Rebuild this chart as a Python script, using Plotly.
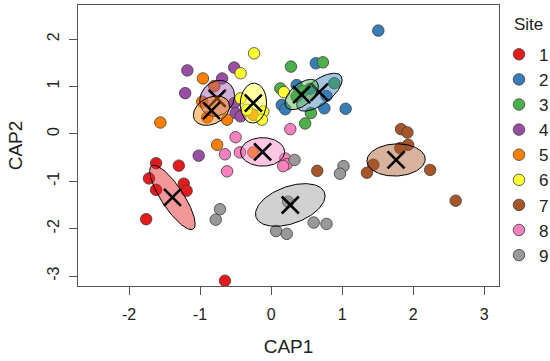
import numpy as np
import plotly.graph_objects as go

# ---- data ----
sites = ["1", "2", "3", "4", "5", "6", "7", "8", "9"]
colors = ["#E41A1C", "#377EB8", "#4DAF4A", "#984EA3", "#FF7F00",
          "#FFFF33", "#A65628", "#F781BF", "#999999"]

cap1_s1 = [-1.62, -1.30, -1.72, -1.62, -1.23, -1.19, -1.76, -0.65]
cap2_s1 = [-0.62, -0.67, -0.94, -1.18, -1.05, -1.20, -1.80, -3.10]
cap1_s2 = [1.51, 0.63, 0.75, 1.05, 0.15, 0.20, 0.36, 0.55, 0.78]
cap2_s2 = [2.18, 1.49, 0.54, 0.53, 0.61, 0.52, 1.03, 0.95, 0.80]
cap1_s3 = [0.28, 0.73, 0.89, 0.56, 0.48, 0.13, 0.36, 0.45]
cap2_s3 = [1.42, 1.51, 1.07, 0.44, 0.22, 0.96, 0.79, 0.90]
cap1_s4 = [-1.18, -0.52, -0.69, -1.21, -1.02, -0.52, -0.50, -0.43]
cap2_s4 = [1.34, 1.40, 1.17, 0.86, -0.46, 0.65, 0.44, 0.37]
cap1_s5 = [-0.96, -1.56, -0.76, -0.80, -0.97, -0.62, -0.90, -0.25, -0.25]
cap2_s5 = [1.17, 0.24, -0.23, 1.01, 0.68, 0.30, 0.35, 0.40, -0.39]
cap1_s6 = [-0.24, -0.43, -0.43, -0.11, -0.13, -0.34, 0.18]
cap2_s6 = [1.70, 1.28, 0.75, 0.47, 0.30, 0.51, 0.88]
cap1_s7 = [1.83, 1.92, 1.93, 1.82, 1.44, 1.35, 2.24, 0.65, 2.60]
cap2_s7 = [0.10, 0.03, -0.23, -0.30, -0.65, -0.82, -0.76, -0.78, -1.41]
cap1_s8 = [-0.50, 0.27, -0.65, -0.44, -0.62, 0.20, 0.22, 0.17]
cap2_s8 = [-0.07, 0.10, -0.43, -0.39, -0.79, -0.52, -0.64, -0.68]
cap1_s9 = [0.33, 1.02, 0.97, 0.24, 0.60, 0.78, 0.07, 0.22, -0.72, -0.78]
cap2_s9 = [-0.55, -0.68, -0.84, -1.43, -1.87, -1.90, -2.05, -2.11, -1.59, -1.81]

cap1 = [cap1_s1, cap1_s2, cap1_s3, cap1_s4, cap1_s5, cap1_s6, cap1_s7, cap1_s8, cap1_s9]
cap2 = [cap2_s1, cap2_s2, cap2_s3, cap2_s4, cap2_s5, cap2_s6, cap2_s7, cap2_s8, cap2_s9]

# group centroids
cent_x = [-1.39, 0.68, 0.43, -0.76, -0.84, -0.25, 1.76, -0.12, 0.27]
cent_y = [-1.34, 0.88, 0.83, 0.75, 0.49, 0.65, -0.55, -0.38, -1.50]
# ellipse spreads (half extents in CAP1 / CAP2) and correlation
ell_sx = [0.32, 0.32, 0.235, 0.245, 0.255, 0.185, 0.41, 0.31, 0.49]
ell_sy = [0.68, 0.40, 0.32, 0.38, 0.31, 0.42, 0.34, 0.30, 0.45]
ell_rho = [-0.82, 0.65, 0.55, 0.15, 0.30, 0.05, 0.05, 0.0, 0.42]

x_ticks = [-2, -1, 0, 1, 2, 3]
y_ticks = [-3, -2, -1, 0, 1, 2]


def rgba(hexc, a):
    h = hexc.lstrip("#")
    r, g, b = int(h[0:2], 16), int(h[2:4], 16), int(h[4:6], 16)
    return f"rgba({r},{g},{b},{a})"


def ellipse(cx, cy, sx, sy, rho, n=120):
    t = np.linspace(0, 2 * np.pi, n)
    x = cx + sx * np.cos(t)
    y = cy + sy * (rho * np.cos(t) + np.sqrt(1 - rho ** 2) * np.sin(t))
    return x, y


FONT = "Liberation Sans, Arial, Helvetica, sans-serif"
fig = go.Figure()

for i, s in enumerate(sites):
    fig.add_trace(go.Scatter(
        x=cap1[i], y=cap2[i], mode="markers", name=s,
        marker=dict(size=11.5, color=colors[i],
                    line=dict(color="rgba(60,60,60,1)", width=0.8)),
    ))

for i, s in enumerate(sites):
    ex, ey = ellipse(cent_x[i], cent_y[i], ell_sx[i], ell_sy[i], ell_rho[i])
    fig.add_trace(go.Scatter(
        x=ex, y=ey, mode="lines", fill="toself",
        fillcolor=rgba(colors[i], 0.45),
        line=dict(color="black", width=1), showlegend=False, hoverinfo="skip",
    ))
    fig.add_trace(go.Scatter(
        x=[cent_x[i]], y=[cent_y[i]], mode="markers", showlegend=False,
        marker=dict(symbol="x-thin", size=17, color="black",
                    line=dict(color="black", width=2.6)),
    ))

axis_common = dict(
    showgrid=False, zeroline=False, showline=True, mirror=True,
    linecolor="#555555", linewidth=1, ticks="outside", ticklen=8,
    tickcolor="#555555", tickwidth=1, automargin=False,
    tickfont=dict(family=FONT, size=16, color="#222222"),
)

fig.update_layout(
    width=550, height=361,
    margin=dict(l=78, r=51, t=5, b=75, autoexpand=False),
    paper_bgcolor="white", plot_bgcolor="white",
    font=dict(family=FONT, color="#222222"),
    xaxis=dict(range=[-2.72, 3.21], tickvals=x_ticks,
               ticktext=[str(v) for v in x_ticks],
               title=dict(text="CAP1", font=dict(family=FONT, size=19), standoff=17),
               ticklabelstandoff=6, **axis_common),
    yaxis=dict(range=[-3.21, 2.72], tickvals=y_ticks,
               ticktext=[str(v) for v in y_ticks], tickangle=-90,
               title=dict(text="CAP2", font=dict(family=FONT, size=19), standoff=16),
               ticklabelstandoff=4, **axis_common),
    legend=dict(
        x=1.0, xanchor="left", y=0.887, yanchor="top",
        font=dict(family=FONT, size=17), bgcolor="rgba(0,0,0,0)",
        itemwidth=30,
    ),
    annotations=[dict(text="Site", xref="paper", yref="paper",
                      x=1.031, y=0.932, xanchor="left", yanchor="middle",
                      showarrow=False, font=dict(family=FONT, size=17, color="#222222"))],
    showlegend=True,
)

fig.write_html("out.html", config={"displayModeBar": False},
               post_script="document.body.style.margin='0';document.body.style.overflow='hidden';")
